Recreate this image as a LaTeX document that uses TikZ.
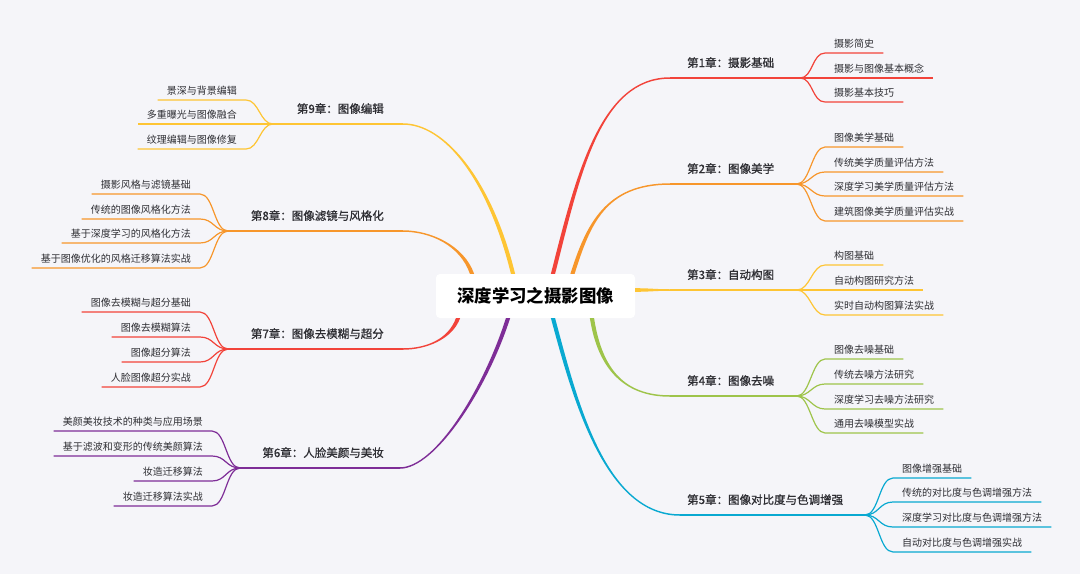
\documentclass[tikz,border=0pt]{standalone}
\usepackage{fontspec}
\setmainfont{Noto Sans CJK SC}
\newfontfamily\chapfont{Noto Sans CJK SC}[FakeBold=1]
\usetikzlibrary{calc}
\definecolor{mmbg}{HTML}{F5F5F9}
\definecolor{mmink}{HTML}{2E2E33}
\definecolor{mmred}{HTML}{F2433A}
\definecolor{mmorange}{HTML}{F7962B}
\definecolor{mmyellow}{HTML}{FEC534}
\definecolor{mmgreen}{HTML}{9EC44A}
\definecolor{mmcyan}{HTML}{09A9D1}
\definecolor{mmpurple}{HTML}{7E2D97}
% tapered main branch: colour, start, control 1, control 2, end, half width at start, half width at end
\newcommand{\limb}[7]{%
  \fill[#1] ($(#2)+(#6)$) .. controls ($(#3)+(#6)$) and ($(#4)+(#7)$) .. ($(#5)+(#7)$)
    -- ($(#5)-(#7)$) .. controls ($(#4)-(#7)$) and ($(#3)-(#6)$) .. ($(#2)-(#6)$) -- cycle;}
\tikzset{
  rootbox/.style={fill=white, rounded corners=4pt, minimum width=199pt, minimum height=44pt,
                  inner sep=0pt, text=black, font=\fontsize{17.4}{20}\selectfont\bfseries},
  chapR/.style={anchor=base west, inner sep=0pt, text=mmink, font=\chapfont\fontsize{11.5}{14}\selectfont},
  chapL/.style={chapR, anchor=base east},
  subR/.style={anchor=south west, inner xsep=9pt, inner ysep=5pt, text depth=0pt,
               text=mmink, font=\fontsize{10}{12}\selectfont},
  subL/.style={subR, anchor=south east},
  chline/.style={line width=1.5pt},
  subline/.style={line width=1.2pt}}
\begin{document}
\begin{tikzpicture}[x=1pt, y=-1pt]
    \fill[mmbg] (0,0) rectangle (1080,574);
    \useasboundingbox (0,0) rectangle (1080,574);
    \node[rootbox] (root) at (535.5,296) {深度学习之摄影图像};
    % where the branches leave the root
    \coordinate (r1) at ([xshift=17.5pt]root.north);
    \coordinate (r2) at ([xshift=37pt]root.north);
    \coordinate (r3) at ([yshift=6pt]root.east);
    \coordinate (r4) at ([xshift=56.5pt]root.south);
    \coordinate (r5) at ([xshift=17.5pt]root.south);
    \coordinate (r6) at ([xshift=-27.5pt]root.south);
    \coordinate (r7) at ([xshift=-77.5pt]root.south);
    \coordinate (r8) at ([xshift=-63.5pt]root.north);
    \coordinate (r9) at ([xshift=-22.5pt]root.north);
    % ends of the curves and forks
    \coordinate (e1) at (670,78);  \coordinate (f1) at (800,78);
    \coordinate (e2) at (670,184); \coordinate (f2) at (797,184);
    \coordinate (e3) at (670,290); \coordinate (f3) at (797,290);
    \coordinate (e4) at (670,396); \coordinate (f4) at (797,396);
    \coordinate (e5) at (680,515); \coordinate (f5) at (865,515);
    \coordinate (e6) at (400,468); \coordinate (f6) at (240,468);
    \coordinate (e7) at (403,349); \coordinate (f7) at (228,349);
    \coordinate (e8) at (403,231); \coordinate (f8) at (228,231);
    \coordinate (e9) at (403,124); \coordinate (f9) at (273,124);
    \limb{mmred}{r1}{578,175}{600,78}{e1}{-2.1,0}{0,-0.75}
    \limb{mmorange}{r2}{588,225}{605,184}{e2}{-2.1,0}{0,-0.75}
    \limb{mmyellow}{r3}{650,290}{655,290}{e3}{0,-1.8}{0,-0.75}
    \limb{mmgreen}{r4}{600,370}{625,396}{e4}{-2.1,0}{0,0.75}
    \limb{mmcyan}{r5}{575,400}{605,515}{e5}{-2.1,0}{0,0.75}
    \limb{mmpurple}{r6}{485,390}{435,468}{e6}{2.1,0}{0,0.75}
    \limb{mmred}{r7}{450,340}{425,349}{e7}{2.1,0}{0,0.75}
    \limb{mmorange}{r8}{462,245}{430,231}{e8}{2.1,0}{0,-0.75}
    \limb{mmyellow}{r9}{490,180}{445,124}{e9}{2.1,0}{0,-0.75}
    \draw[chline, mmred] (e1) -- (f1);
    \draw[chline, mmorange] (e2) -- (f2);
    \draw[chline, mmyellow] (e3) -- (f3);
    \draw[chline, mmgreen] (e4) -- (f4);
    \draw[chline, mmcyan] (e5) -- (f5);
    \draw[chline, mmpurple] (e6) -- (f6);
    \draw[chline, mmred] (e7) -- (f7);
    \draw[chline, mmorange] (e8) -- (f8);
    \draw[chline, mmyellow] (e9) -- (f9);
    % chapters
    \node[chapR] (c1) at (687,67) {第1章：摄影基础};
    \node[chapR] (c2) at (687,173) {第2章：图像美学};
    \node[chapR] (c3) at (687,279) {第3章：自动构图};
    \node[chapR] (c4) at (687,385) {第4章：图像去噪};
    \node[chapR] (c5) at (687,504) {第5章：图像对比度与色调增强};
    \node[chapL] (c6) at (384,457) {第6章：人脸美颜与美妆};
    \node[chapL] (c7) at (384,338) {第7章：图像去模糊与超分};
    \node[chapL] (c8) at (384,220) {第8章：图像滤镜与风格化};
    \node[chapL] (c9) at (384,113) {第9章：图像编辑};
    % sections, right side
    \node[subR] (s11) at (825,53) {摄影简史};
    \node[subR] (s12) at (825,78) {摄影与图像基本概念};
    \node[subR] (s13) at (825,102) {摄影基本技巧};
    \node[subR] (s21) at (825,147) {图像美学基础};
    \node[subR] (s22) at (825,172) {传统美学质量评估方法};
    \node[subR] (s23) at (825,196) {深度学习美学质量评估方法};
    \node[subR] (s24) at (825,221) {建筑图像美学质量评估实战};
    \node[subR] (s31) at (825,265) {构图基础};
    \node[subR] (s32) at (825,290) {自动构图研究方法};
    \node[subR] (s33) at (825,315) {实时自动构图算法实战};
    \node[subR] (s41) at (825,359) {图像去噪基础};
    \node[subR] (s42) at (825,384) {传统去噪方法研究};
    \node[subR] (s43) at (825,409) {深度学习去噪方法研究};
    \node[subR] (s44) at (825,433) {通用去噪模型实战};
    \node[subR] (s51) at (893,478) {图像增强基础};
    \node[subR] (s52) at (893,502) {传统的对比度与色调增强方法};
    \node[subR] (s53) at (893,527) {深度学习对比度与色调增强方法};
    \node[subR] (s54) at (893,552) {自动对比度与色调增强实战};
    % sections, left side
    \node[subL] (s61) at (212,431) {美颜美妆技术的种类与应用场景};
    \node[subL] (s62) at (212,456) {基于滤波和变形的传统美颜算法};
    \node[subL] (s63) at (212,481) {妆造迁移算法};
    \node[subL] (s64) at (212,506) {妆造迁移算法实战};
    \node[subL] (s71) at (200,312) {图像去模糊与超分基础};
    \node[subL] (s72) at (200,337) {图像去模糊算法};
    \node[subL] (s73) at (200,362) {图像超分算法};
    \node[subL] (s74) at (200,387) {人脸图像超分实战};
    \node[subL] (s81) at (200,194) {摄影风格与滤镜基础};
    \node[subL] (s82) at (200,219) {传统的图像风格化方法};
    \node[subL] (s83) at (200,243) {基于深度学习的风格化方法};
    \node[subL] (s84) at (200,268) {基于图像优化的风格迁移算法实战};
    \node[subL] (s91) at (246,100) {景深与背景编辑};
    \node[subL] (s92) at (246,124) {多重曝光与图像融合};
    \node[subL] (s93) at (246,149) {纹理编辑与图像修复};
    % fork to each section
    \draw[subline, mmred] (f1) .. controls +(13,0) and +(-13,0) .. (s11.south west) -- (s11.south east);
    \draw[subline, mmred] (f1) -- (s12.south west) -- (s12.south east);
    \draw[subline, mmred] (f1) .. controls +(13,0) and +(-13,0) .. (s13.south west) -- (s13.south east);
    \draw[subline, mmorange] (f2) .. controls +(13,0) and +(-13,0) .. (s21.south west) -- (s21.south east);
    \draw[subline, mmorange] (f2) .. controls +(13,0) and +(-13,0) .. (s22.south west) -- (s22.south east);
    \draw[subline, mmorange] (f2) .. controls +(13,0) and +(-13,0) .. (s23.south west) -- (s23.south east);
    \draw[subline, mmorange] (f2) .. controls +(13,0) and +(-13,0) .. (s24.south west) -- (s24.south east);
    \draw[subline, mmyellow] (f3) .. controls +(13,0) and +(-13,0) .. (s31.south west) -- (s31.south east);
    \draw[subline, mmyellow] (f3) -- (s32.south west) -- (s32.south east);
    \draw[subline, mmyellow] (f3) .. controls +(13,0) and +(-13,0) .. (s33.south west) -- (s33.south east);
    \draw[subline, mmgreen] (f4) .. controls +(13,0) and +(-13,0) .. (s41.south west) -- (s41.south east);
    \draw[subline, mmgreen] (f4) .. controls +(13,0) and +(-13,0) .. (s42.south west) -- (s42.south east);
    \draw[subline, mmgreen] (f4) .. controls +(13,0) and +(-13,0) .. (s43.south west) -- (s43.south east);
    \draw[subline, mmgreen] (f4) .. controls +(13,0) and +(-13,0) .. (s44.south west) -- (s44.south east);
    \draw[subline, mmcyan] (f5) .. controls +(14,0) and +(-14,0) .. (s51.south west) -- (s51.south east);
    \draw[subline, mmcyan] (f5) .. controls +(14,0) and +(-14,0) .. (s52.south west) -- (s52.south east);
    \draw[subline, mmcyan] (f5) .. controls +(14,0) and +(-14,0) .. (s53.south west) -- (s53.south east);
    \draw[subline, mmcyan] (f5) .. controls +(14,0) and +(-14,0) .. (s54.south west) -- (s54.south east);
    \draw[subline, mmpurple] (f6) .. controls +(-14,0) and +(14,0) .. (s61.south east) -- (s61.south west);
    \draw[subline, mmpurple] (f6) .. controls +(-14,0) and +(14,0) .. (s62.south east) -- (s62.south west);
    \draw[subline, mmpurple] (f6) .. controls +(-14,0) and +(14,0) .. (s63.south east) -- (s63.south west);
    \draw[subline, mmpurple] (f6) .. controls +(-14,0) and +(14,0) .. (s64.south east) -- (s64.south west);
    \draw[subline, mmred] (f7) .. controls +(-14,0) and +(14,0) .. (s71.south east) -- (s71.south west);
    \draw[subline, mmred] (f7) .. controls +(-14,0) and +(14,0) .. (s72.south east) -- (s72.south west);
    \draw[subline, mmred] (f7) .. controls +(-14,0) and +(14,0) .. (s73.south east) -- (s73.south west);
    \draw[subline, mmred] (f7) .. controls +(-14,0) and +(14,0) .. (s74.south east) -- (s74.south west);
    \draw[subline, mmorange] (f8) .. controls +(-14,0) and +(14,0) .. (s81.south east) -- (s81.south west);
    \draw[subline, mmorange] (f8) .. controls +(-14,0) and +(14,0) .. (s82.south east) -- (s82.south west);
    \draw[subline, mmorange] (f8) .. controls +(-14,0) and +(14,0) .. (s83.south east) -- (s83.south west);
    \draw[subline, mmorange] (f8) .. controls +(-14,0) and +(14,0) .. (s84.south east) -- (s84.south west);
    \draw[subline, mmyellow] (f9) .. controls +(-13,0) and +(13,0) .. (s91.south east) -- (s91.south west);
    \draw[subline, mmyellow] (f9) -- (s92.south east) -- (s92.south west);
    \draw[subline, mmyellow] (f9) .. controls +(-13,0) and +(13,0) .. (s93.south east) -- (s93.south west);
  \end{tikzpicture}
\end{document}
